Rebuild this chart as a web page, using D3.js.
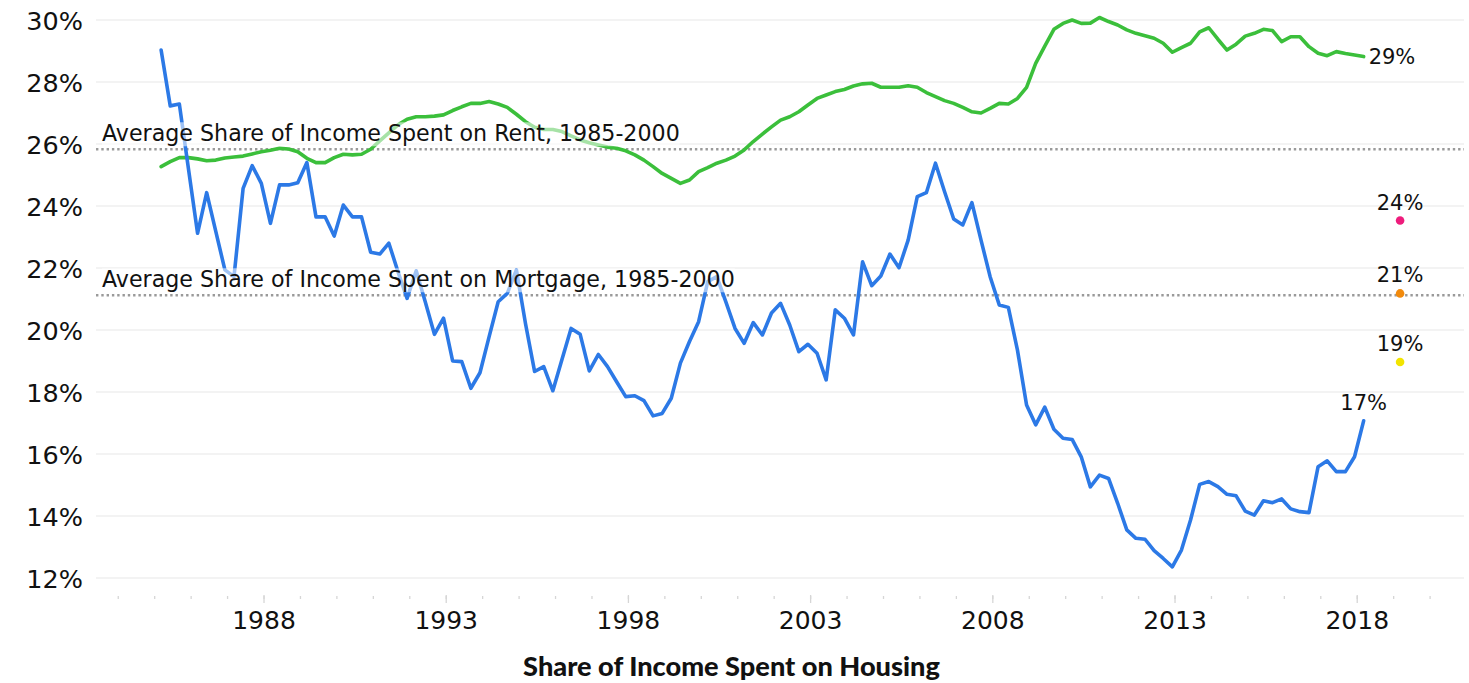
<!DOCTYPE html>
<html>
<head>
<meta charset="utf-8">
<script src="https://cdn.jsdelivr.net/npm/d3@7"></script>
<style>
  html, body { margin: 0; padding: 0; background: #ffffff; }
  svg { display: block; }
</style>
</head>
<body>
<script>
// ---------------- DATA ----------------
// Quarterly share of income spent on housing, 1985 Q1 – 2018 Q1 (percent)
const startYear = 1985;
const mortgageShare = [
  29.03, 27.23, 27.29, 25.20, 23.12, 24.43, 23.18, 21.94, 21.72, 24.57,
  25.30, 24.73, 23.44, 24.68, 24.68, 24.75, 25.40, 23.65, 23.65, 23.03,
  24.03, 23.65, 23.65, 22.51, 22.45, 22.80, 21.88, 21.02, 21.91, 20.90,
  19.86, 20.38, 19.00, 18.98, 18.12, 18.62, 19.78, 20.91, 21.18, 21.94,
  20.20, 18.66, 18.82, 18.04, 19.05, 20.05, 19.86, 18.68, 19.21, 18.82,
  18.33, 17.85, 17.88, 17.72, 17.23, 17.31, 17.80, 18.93, 19.63, 20.27,
  21.56, 21.72, 20.90, 20.05, 19.57, 20.24, 19.84, 20.55, 20.86, 20.16,
  19.30, 19.54, 19.25, 18.39, 20.65, 20.38, 19.84, 22.20, 21.43, 21.74,
  22.45, 22.01, 22.90, 24.30, 24.43, 25.38, 24.46, 23.58, 23.39, 24.11,
  22.90, 21.72, 20.81, 20.73, 19.35, 17.58, 16.94, 17.51, 16.80, 16.51,
  16.47, 15.91, 14.94, 15.32, 15.21, 14.41, 13.55, 13.28, 13.25, 12.88,
  12.63, 12.36, 12.90, 13.87, 15.02, 15.11, 14.95, 14.70, 14.65, 14.16,
  14.03, 14.49, 14.43, 14.55, 14.23, 14.14, 14.11, 15.59, 15.78, 15.43,
  15.43, 15.91, 17.07
];
const rentShare = [
  25.27, 25.43, 25.56, 25.56, 25.52, 25.46, 25.48, 25.55, 25.58, 25.61,
  25.68, 25.75, 25.80, 25.86, 25.84, 25.75, 25.54, 25.40, 25.40, 25.56,
  25.67, 25.65, 25.67, 25.83, 26.10, 26.36, 26.62, 26.80, 26.88, 26.88,
  26.90, 26.94, 27.08, 27.20, 27.31, 27.31, 27.37, 27.29, 27.18, 26.96,
  26.72, 26.54, 26.47, 26.47, 26.40, 26.26, 26.13, 26.04, 25.97, 25.90,
  25.86, 25.78, 25.65, 25.48, 25.27, 25.05, 24.89, 24.73, 24.84, 25.11,
  25.24, 25.38, 25.48, 25.61, 25.81, 26.08, 26.32, 26.55, 26.77, 26.88,
  27.04, 27.26, 27.47, 27.58, 27.69, 27.76, 27.87, 27.94, 27.96, 27.83,
  27.83, 27.83, 27.88, 27.83, 27.66, 27.53, 27.40, 27.31, 27.18, 27.04,
  27.00, 27.15, 27.31, 27.29, 27.47, 27.83, 28.60, 29.16, 29.70, 29.89,
  30.00, 29.89, 29.90, 30.08, 29.95, 29.84, 29.68, 29.57, 29.49, 29.41,
  29.25, 28.96, 29.11, 29.25, 29.62, 29.75, 29.38, 29.03, 29.22, 29.48,
  29.57, 29.70, 29.66, 29.30, 29.46, 29.46, 29.14, 28.93, 28.85, 28.98,
  28.92, 28.87, 28.82
];
const averageLines = [
  { label: "Average Share of Income Spent on Rent, 1985-2000", value: 25.83 },
  { label: "Average Share of Income Spent on Mortgage, 1985-2000", value: 21.12 }
];
const pointValues = [23.53, 21.18, 18.97];
const pointLabels = ["24%", "21%", "19%"];
const pointColors = ["#ee1c7c", "#f28a0c", "#f2e400"];
const pointYear = 2019;
const endLabels = { rent: "29%", mortgage: "17%" };
const yTicks = [12, 14, 16, 18, 20, 22, 24, 26, 28, 30];
const xMajorTicks = [1988, 1993, 1998, 2003, 2008, 2013, 2018];
const xMinorTicks = d3.range(1984, 2021);
const xTitle = "Share of Income Spent on Housing";

// quarter -> decimal position (points sit slightly into each quarter)
const qOffset = 0.19;
const qx = i => startYear + qOffset + i / 4;

// ---------------- LAYOUT ----------------
const W = 1469, H = 683;
const FONT = "'DejaVu Sans', sans-serif";
const svg = d3.select("body").append("svg").attr("width", W).attr("height", H);

const x = d3.scaleLinear().domain([1983.403, 2020.944]).range([96, 1464]);
const y = d3.scaleLinear().domain([12, 30]).range([578, 20]);

// gridlines
svg.append("g").selectAll("line").data(yTicks).join("line")
  .attr("x1", x.range()[0]).attr("x2", x.range()[1])
  .attr("y1", d => y(d)).attr("y2", d => y(d))
  .attr("stroke", "#efefef").attr("stroke-width", 1.6);

// y axis labels
const yAxis = svg.append("g").attr("transform", `translate(${x.range()[0]},0)`)
  .call(d3.axisLeft(y).tickValues(yTicks).tickSize(0).tickPadding(13).tickFormat(d => d + "%"));
yAxis.select(".domain").remove();
yAxis.selectAll("text").attr("font-family", FONT).attr("font-size", 25.5).attr("fill", "#111").attr("dy", "0.36em");

// x axis minor ticks
const xMinor = svg.append("g").attr("transform", "translate(0,596)")
  .call(d3.axisBottom(x).tickValues(xMinorTicks).tickSize(3).tickFormat(""));
xMinor.select(".domain").remove();
xMinor.selectAll("line").attr("stroke", "#d6d6d6").attr("stroke-width", 1.3);

// x axis major ticks + labels
const xMajor = svg.append("g").attr("transform", "translate(0,595)")
  .call(d3.axisBottom(x).tickValues(xMajorTicks).tickSize(8).tickPadding(8).tickFormat(d3.format("d")));
xMajor.select(".domain").remove();
xMajor.selectAll("line").attr("stroke", "#d6d6d6").attr("stroke-width", 1.3);
xMajor.selectAll("text").attr("font-family", FONT).attr("font-size", 25).attr("fill", "#111")
  .attr("y", 34).attr("dy", 0);

// x axis title
const title = svg.append("text")
  .attr("x", 731.5).attr("y", 676).attr("text-anchor", "middle")
  .attr("font-family", "Lato, sans-serif").attr("font-weight", 900)
  .attr("font-size", 22).attr("fill", "#111").text(xTitle);
{
  const w = title.node().getComputedTextLength();
  title.attr("font-size", 22 * 417 / w);
}

// average dotted lines
svg.append("g").selectAll("line").data(averageLines).join("line")
  .attr("x1", x.range()[0]).attr("x2", x.range()[1])
  .attr("y1", d => y(d.value)).attr("y2", d => y(d.value))
  .attr("stroke", "#9a9a9a").attr("stroke-width", 2.4).attr("stroke-dasharray", "2.4 2.9");

// series lines
const line = d3.line().x((d, i) => x(qx(i))).y(d => y(d));
svg.append("path").datum(rentShare).attr("d", line)
  .attr("fill", "none").attr("stroke", "#3bbf3b").attr("stroke-width", 3.6)
  .attr("stroke-linejoin", "round").attr("stroke-linecap", "round");
svg.append("path").datum(mortgageShare).attr("d", line)
  .attr("fill", "none").attr("stroke", "#2c79e6").attr("stroke-width", 3.6)
  .attr("stroke-linejoin", "round").attr("stroke-linecap", "round");

// average labels with translucent white backing
const avgG = svg.append("g");
let avgSize = 20;
averageLines.forEach((d, k) => {
  const g = avgG.append("g");
  const t = g.append("text")
    .attr("x", 102).attr("y", y(d.value) - 8)
    .attr("font-family", FONT).attr("font-size", avgSize).attr("fill", "#111")
    .text(d.label);
  if (k === 0) {
    const w = t.node().getComputedTextLength();
    avgSize = avgSize * 578 / w;
    t.attr("font-size", avgSize);
  } else {
    t.attr("font-size", avgSize);
  }
  const bb = t.node().getBBox();
  g.insert("rect", "text")
    .attr("x", bb.x).attr("y", bb.y + 2).attr("width", bb.width).attr("height", bb.height - 2)
    .attr("fill", "#fff").attr("opacity", 0.55);
});

// end labels
const nR = rentShare.length - 1, nM = mortgageShare.length - 1;
svg.append("text")
  .attr("x", x(qx(nR)) + 5).attr("y", y(rentShare[nR]) + 7)
  .attr("font-family", FONT).attr("font-size", 21).attr("fill", "#111")
  .text(endLabels.rent);
svg.append("text")
  .attr("x", x(qx(nM))).attr("y", y(mortgageShare[nM]) - 11).attr("text-anchor", "middle")
  .attr("font-family", FONT).attr("font-size", 21).attr("fill", "#111")
  .text(endLabels.mortgage);

// single points
const px = x(pointYear + qOffset);
svg.append("g").selectAll("circle").data(pointValues).join("circle")
  .attr("cx", px).attr("cy", d => y(d)).attr("r", 4.3)
  .attr("fill", (d, i) => pointColors[i]);
svg.append("g").selectAll("text").data(pointValues).join("text")
  .attr("x", px).attr("y", d => y(d) - 11).attr("text-anchor", "middle")
  .attr("font-family", FONT).attr("font-size", 21).attr("fill", "#111")
  .text((d, i) => pointLabels[i]);
</script>
</body>
</html>
